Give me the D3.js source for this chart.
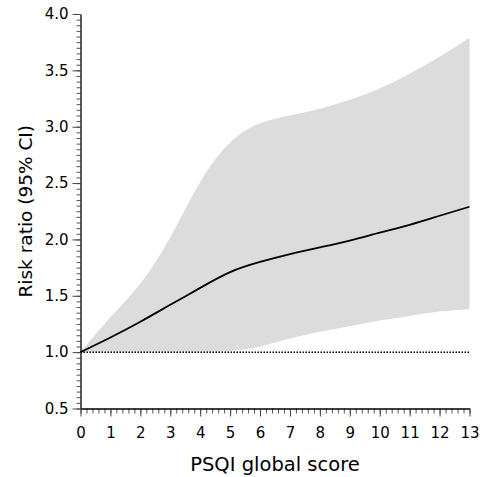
<!DOCTYPE html>
<html>
<head>
<meta charset="utf-8">
<script src="https://cdn.jsdelivr.net/npm/d3@7"></script>
<style>
  html, body { margin: 0; padding: 0; background: #fff; }
  svg { display: block; font-family: "DejaVu Sans", Verdana, sans-serif; }
</style>
</head>
<body>
<svg id="chart" width="480" height="477"></svg>
<script>
// PSQI global score vs. risk ratio with 95% confidence band
const scores = [0, 1, 2, 3, 4, 5, 6, 7, 8, 9, 10, 11, 12, 13];
const riskRatio = [1.00, 1.13, 1.27, 1.42, 1.57, 1.71, 1.80, 1.87, 1.93, 1.99, 2.06, 2.13, 2.21, 2.29];
const upperCI = [1.00, 1.31, 1.61, 2.02, 2.51, 2.86, 3.03, 3.10, 3.16, 3.24, 3.34, 3.47, 3.62, 3.79];
const lowerCI = [1.00, 1.00, 1.00, 1.00, 1.00, 1.01, 1.05, 1.12, 1.18, 1.23, 1.28, 1.32, 1.36, 1.38];
const xTicks = d3.range(0, 14, 1);
const yTicks = [0.5, 1.0, 1.5, 2.0, 2.5, 3.0, 3.5, 4.0];
const referenceRR = 1.0;

const svg = d3.select("#chart");
const x = d3.scaleLinear().domain([0, 13]).range([80.5, 469.5]);
const y = d3.scaleLinear().domain([0.5, 4.0]).range([408.5, 14]);

const rows = scores.map((s, i) => ({ s, rr: riskRatio[i], lo: lowerCI[i], hi: upperCI[i] }));

// spline through the estimates; the flat lower bound uses Catmull-Rom so it never dips below 1
const upperLine = d3.line().x(d => x(d.s)).y(d => y(d.hi)).curve(d3.curveNatural);
const lowerLine = d3.line().x(d => x(d.s)).y(d => y(d.lo)).curve(d3.curveCatmullRom.alpha(0.5));

// confidence band: upper edge left-to-right, lower edge back right-to-left
const bandPath = upperLine(rows) + "L" + lowerLine(rows.slice().reverse()).slice(1) + "Z";
svg.append("path")
  .attr("fill", "#dcdcdc")
  .attr("d", bandPath);

// reference line at RR = 1
svg.append("line")
  .attr("x1", x(0)).attr("x2", x(13))
  .attr("y1", y(referenceRR)).attr("y2", y(referenceRR))
  .attr("stroke", "#000")
  .attr("stroke-width", 1.5)
  .attr("stroke-dasharray", "1.5,1.5");

// risk ratio curve
svg.append("path")
  .datum(rows)
  .attr("fill", "none")
  .attr("stroke", "#000")
  .attr("stroke-width", 1.8)
  .attr("d", d3.line()
    .x(d => x(d.s))
    .y(d => y(d.rr))
    .curve(d3.curveNatural));

// y axis: minor ticks then labelled major ticks
const yMinor = d3.range(0.5, 4.0001, 0.05);
svg.append("g")
  .attr("transform", `translate(${x(0)},0)`)
  .call(d3.axisLeft(y).tickValues(yMinor).tickSize(4).tickFormat(""))
  .call(g => g.select(".domain").remove())
  .call(g => g.selectAll("line").attr("stroke", "#555"));
const yAxis = svg.append("g")
  .attr("transform", `translate(${x(0)},0)`)
  .call(d3.axisLeft(y).tickValues(yTicks).tickSize(8).tickSizeOuter(0).tickPadding(4).tickFormat(d3.format(".1f")));
yAxis.select(".domain").attr("stroke", "#000").attr("stroke-width", 1.3);
yAxis.selectAll("text").attr("font-size", 15).attr("fill", "#000").attr("font-family", "DejaVu Sans, sans-serif");
yAxis.selectAll("line").attr("stroke", "#444");

// x axis
const xMinor = d3.range(0, 13.0001, 0.2);
svg.append("g")
  .attr("transform", `translate(0,${y(0.5)})`)
  .call(d3.axisBottom(x).tickValues(xMinor).tickSize(5).tickFormat(""))
  .call(g => g.select(".domain").remove())
  .call(g => g.selectAll("line").attr("stroke", "#555"));
const xAxis = svg.append("g")
  .attr("transform", `translate(0,${y(0.5)})`)
  .call(d3.axisBottom(x).tickValues(xTicks).tickSize(8).tickSizeOuter(0).tickPadding(11).tickFormat(d3.format("d")));
xAxis.select(".domain").attr("stroke", "#000").attr("stroke-width", 1.3);
xAxis.selectAll("text").attr("font-size", 15).attr("fill", "#000").attr("font-family", "DejaVu Sans, sans-serif");
xAxis.selectAll("line").attr("stroke", "#444");

// axis titles
svg.append("text")
  .attr("x", (x(0) + x(13)) / 2)
  .attr("y", 471)
  .attr("text-anchor", "middle")
  .attr("font-size", 19.5)
  .attr("fill", "#000")
  .text("PSQI global score");

svg.append("text")
  .attr("transform", `translate(32,${(y(0.5) + y(4.0)) / 2}) rotate(-90)`)
  .attr("text-anchor", "middle")
  .attr("font-size", 18.5)
  .attr("fill", "#000")
  .text("Risk ratio (95% CI)");
</script>
</body>
</html>
